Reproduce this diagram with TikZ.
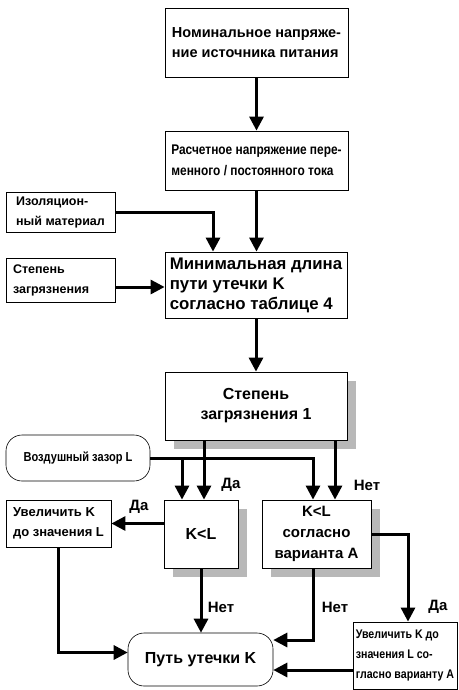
\documentclass[tikz,border=0pt]{standalone}
\usepackage{fontspec}
\setmainfont{Liberation Sans}
\newfontfamily\narrowfont{Liberation Sans}[FakeStretch=0.85]
\usetikzlibrary{positioning,arrows.meta,shadows}
\tikzset{>={Triangle[length=14pt,width=14pt]}}
\tikzset{
  box/.style={draw,line width=0.8pt,fill=white,inner sep=0pt,align=left},
  sbox/.style={box,align=center,drop shadow={shadow xshift=9pt,shadow yshift=-9pt,fill=black!28,opacity=1}},
  term/.style={box,align=center,rounded corners=16pt,line width=0.6pt},
  flow/.style={->,line width=3pt},
  lbl/.style={font=\bfseries\fontsize{15}{15}\selectfont},
}

\begin{document}
\begin{tikzpicture}[x=1pt,y=-1pt]
        \useasboundingbox (0,0) rectangle (458,690);
        % top chain
        \node[box,minimum width=183pt,minimum height=69pt,
              font=\bfseries\fontsize{14.5}{20}\selectfont] at (256.5,42.5) (nom)
              {Номинальное напряже-\\ние источника питания};
        \node[box,minimum width=183pt,minimum height=59pt,
              font=\narrowfont\bfseries\fontsize{14}{21}\selectfont] at (256.5,160.5) (rasch)
              {Расчетное напряжение пере-\\менного / постоянного тока};
        \node[box,minimum width=109pt,minimum height=40pt,
              font=\bfseries\fontsize{12.5}{20}\selectfont] at (60.5,212) (izol)
              {Изоляцион-\\ный материал};
        \node[box,minimum width=182pt,minimum height=66pt,
              font=\bfseries\fontsize{16.8}{20}\selectfont] at (256,285) (minlen)
              {Минимальная длина\\пути утечки K\\согласно таблице 4};
        \node[box,minimum width=109pt,minimum height=44pt,text width=95pt,
              font=\bfseries\fontsize{12.5}{20}\selectfont] at (60.5,280) (stepz)
              {Степень\\загрязнения};
        \node[sbox,minimum width=182pt,minimum height=68pt,
              font=\bfseries\fontsize{16}{20}\selectfont] at (256,406) (degree)
              {Степень\\загрязнения 1};
        % decisions
        \node[term,minimum width=144pt,minimum height=46pt,
              font=\narrowfont\bfseries\fontsize{13}{20}\selectfont] at (78,458) (air)
              {Воздушный зазор L};
        \node[sbox,minimum width=74pt,minimum height=68pt,
              font=\bfseries\fontsize{16}{21}\selectfont] at (201,534) (kl) {K<L};
        \node[sbox,minimum width=109pt,minimum height=68pt,
              font=\bfseries\fontsize{15}{21}\selectfont] at (316.5,534) (klA)
              {K<L\\согласно\\варианта A};
        \node[box,minimum width=105pt,minimum height=47pt,
              font=\bfseries\fontsize{13}{20}\selectfont] at (58.5,523.5) (incK)
              {Увеличить K\\до значения L};
        \node[term,minimum width=145pt,minimum height=53pt,
              font=\bfseries\fontsize{16}{20}\selectfont] at (200.5,659.5) (path)
              {Путь утечки K};
        \node[box,minimum width=104pt,minimum height=67pt,
              font=\narrowfont\bfseries\fontsize{12.5}{20}\selectfont] at (405,655.5) (incKA)
              {Увеличить K до\\значения L со-\\гласно варианту A};
        % labels
        \node[lbl] at (231,485) (yes1) {Да};
        \node[lbl] at (367,485) (no1) {Нет};
        \node[lbl] at (139,507) (yes2) {Да};
        \node[lbl] at (221,607) (no2) {Нет};
        \node[lbl] at (335,607) (no3) {Нет};
        \node[lbl] at (438,607) (yes3) {Да};
        % connectors
        \draw[flow] (nom) -- (rasch);
        \draw[flow] (rasch) -- (rasch |- minlen.north);
        \draw[flow] (izol.east) -| ([xshift=-43pt]minlen.north);
        \draw[flow] ([yshift=-7pt]stepz.east) -- ([yshift=-7pt]stepz.east -| minlen.west);
        \draw[flow] (minlen) -- (degree);
        \draw[flow] ([xshift=-52pt]degree.south) -- ([xshift=-52pt]degree.south |- kl.north);
        \draw[flow] ([xshift=79pt]degree.south) -- ([xshift=79pt]degree.south |- klA.north);
        \coordinate (airjoin) at (182,458);
        \draw[flow] (air.east) -| ([xshift=-3.5pt]klA.north);
        \draw[flow] (airjoin) -- (airjoin |- kl.north);
        \draw[flow] (kl.west |- incK.east) -- (incK.east);
        \draw[flow] (incK.south) |- ([yshift=7pt]path.west);
        \draw[flow] (kl.south) -- (kl.south |- path.north);
        \draw[flow] ([xshift=-3.5pt]klA.south) |- ([yshift=19.5pt]path.east);
        \draw[flow] (klA.east) -| ([xshift=3pt]incKA.north);
        \draw[flow] ([yshift=-14.5pt]incKA.west) -- ([yshift=-14.5pt]incKA.west -| path.east);
\end{tikzpicture}
\end{document}
